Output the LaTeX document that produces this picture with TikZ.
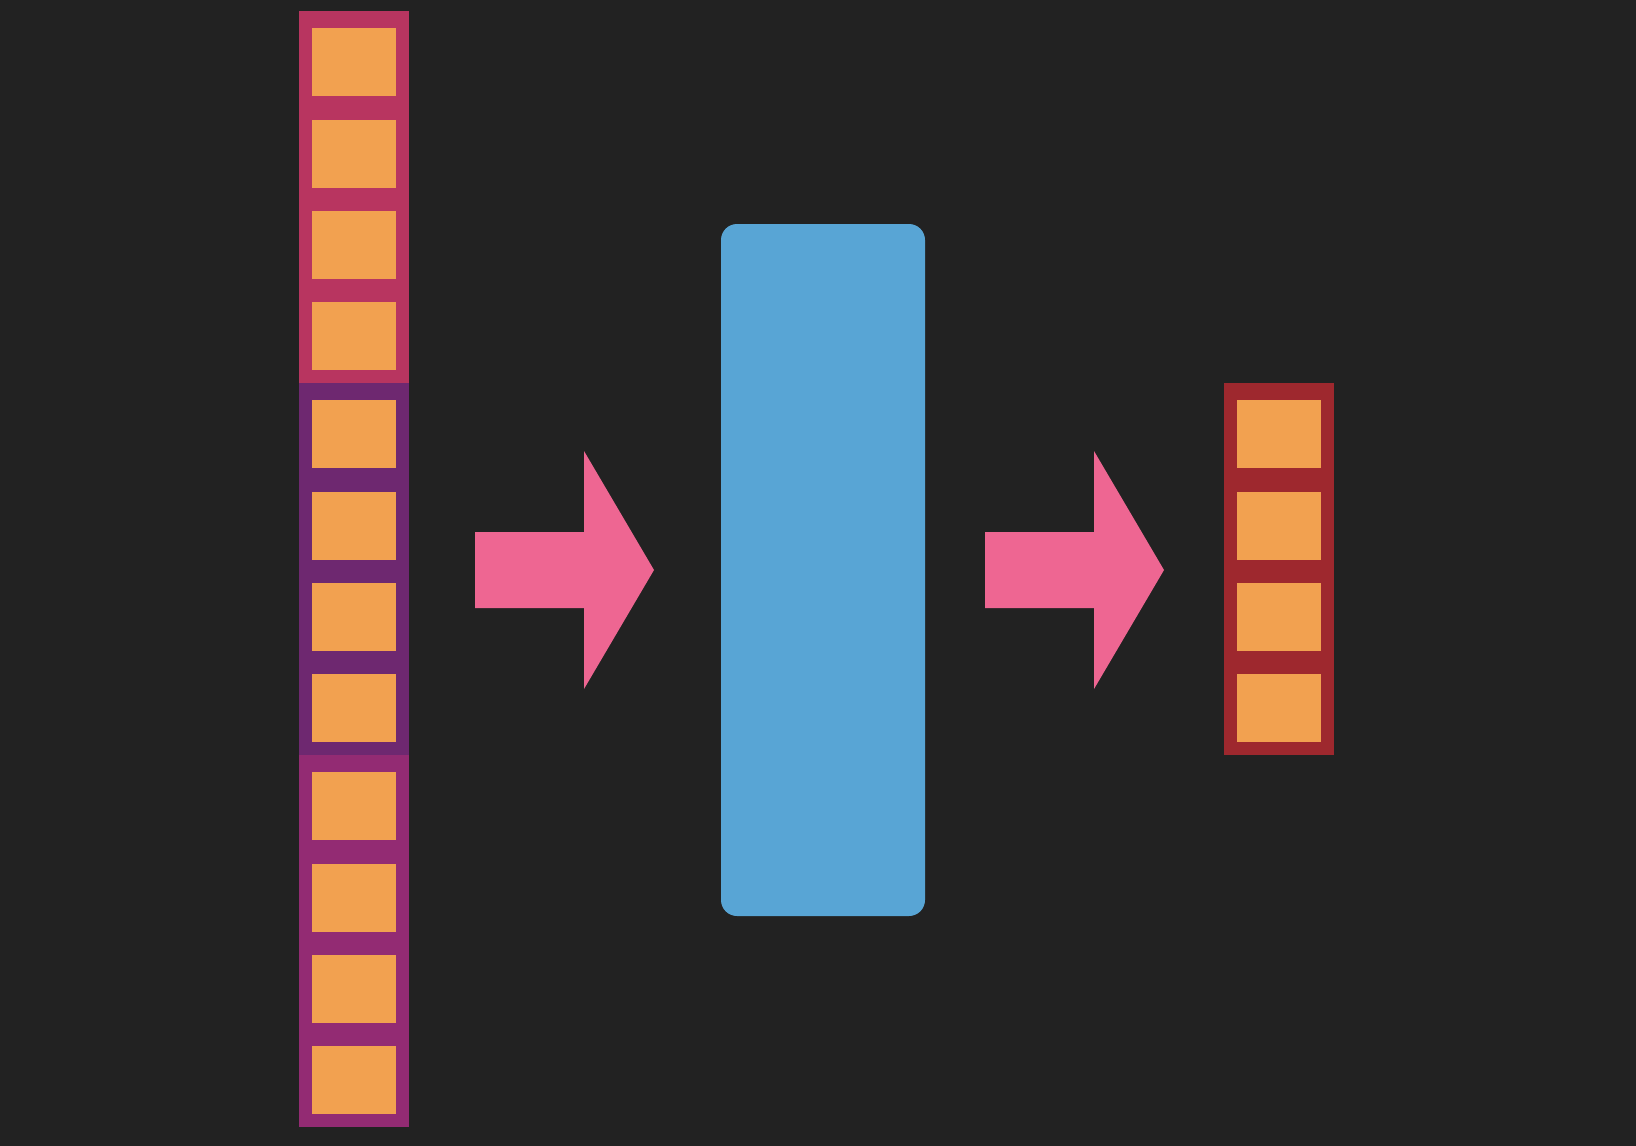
\documentclass[tikz,border=0pt]{standalone}
\definecolor{bgdark}{HTML}{222222}
\definecolor{cellorange}{HTML}{F2A150}
\definecolor{framerose}{HTML}{B83560}
\definecolor{frameplum}{HTML}{6E2870}
\definecolor{framemagenta}{HTML}{932B73}
\definecolor{framered}{HTML}{9E282E}
\definecolor{arrowpink}{HTML}{EE6692}
\definecolor{blockblue}{HTML}{58A5D5}
\tikzset{seqframe/.style={minimum width=110pt,minimum height=372pt,inner sep=0pt,anchor=north west},
         seqcell/.style={fill=cellorange,minimum width=84pt,minimum height=68pt,inner sep=0pt,anchor=north},
         bigarrow/.style={fill=arrowpink}}

\begin{document}
\begin{tikzpicture}[x=1pt,y=-1pt]
\fill[bgdark] (0,0) rectangle (1636,1146);
\useasboundingbox (0,0) rectangle (1636,1146);
% input sequence, three groups
\node[seqframe,fill=framerose] (g1) at (299,11) {};
\node[seqframe,fill=frameplum] (g2) at (299,383) {};
\node[seqframe,fill=framemagenta] (g3) at (299,755) {};
% output
\node[seqframe,fill=framered] (out) at (1224,383) {};
\foreach \g in {g1,g2,g3,out}
  \foreach \i in {1,...,4}
    \node[seqcell] (\g-\i) at ([yshift=-17pt-(\i-1)*91.33pt] \g.north) {};
% model block
\node[fill=blockblue,rounded corners=16pt,minimum width=204pt,minimum height=692pt,inner sep=0pt] (net) at (823,570) {};
\foreach \ax in {475,985}
  \fill[bigarrow] (\ax,532) -- ++(109,0) -- ++(0,-81) -- ++(70,119) -- ++(-70,119) -- ++(0,-81) -- ++(-109,0) -- cycle;
\end{tikzpicture}
\end{document}
